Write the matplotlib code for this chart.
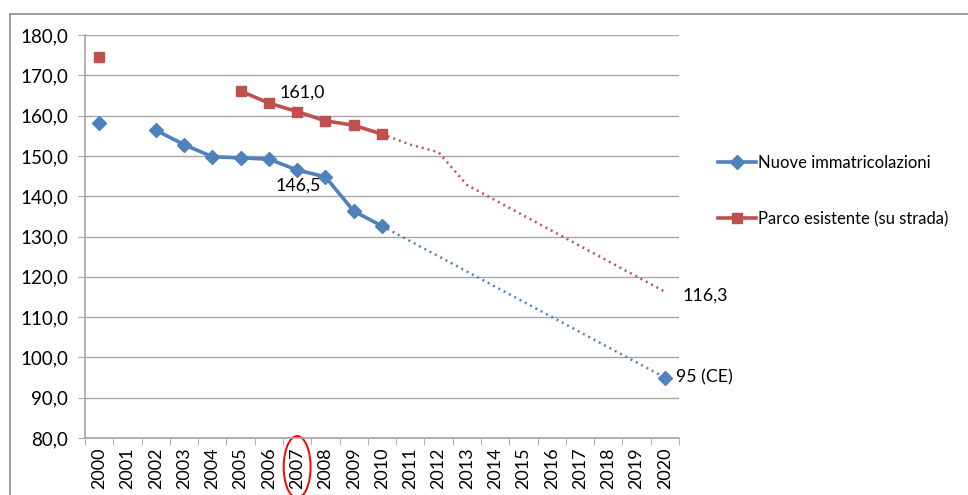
import matplotlib.pyplot as plt
import matplotlib.patches as mpatches
import matplotlib.transforms as mtransforms
import numpy as np

years = [str(y) for y in range(2000, 2021)]

# solid series (None = no data)
nuove = [158.1, None, 156.4, 152.8, 149.8, 149.5, 149.2, 146.5, 144.8, 136.3, 132.6,
         None, None, None, None, None, None, None, None, None, 95.0]
parco = [174.5, None, None, None, None, 166.1, 163.1, 161.0, 158.7, 157.6, 155.4,
         None, None, None, None, None, None, None, None, None, None]

# dotted projections
nuove_trend_years = [2010, 2020]
nuove_trend = [132.6, 95.0]
parco_trend_years = [2010, 2011, 2012, 2013, 2020]
parco_trend = [155.4, 152.8, 150.9, 142.8, 116.3]

blue = '#4F81BD'
red = '#C0504D'
grid = '#A6A6A6'
font = 'Lato'
fs = 12.8

fig = plt.figure(figsize=(9.68, 4.95), dpi=100)
ax = fig.add_axes([85/968, 1-438/495, (679-85)/968, (438-35)/495])

# outer chart frame
fig.patches.append(mpatches.Rectangle((10/968, -0.1), 1.2, (495-14)/495 + 0.1,
                                      transform=fig.transFigure, fill=False,
                                      edgecolor='#8C8C8C', linewidth=1.2))

x = np.arange(len(years))
yidx = {int(y): i for i, y in enumerate(years)}

nv = np.array([np.nan if v is None else v for v in nuove], dtype=float)
pv = np.array([np.nan if v is None else v for v in parco], dtype=float)

ax.plot([yidx[y] for y in nuove_trend_years], nuove_trend, color=blue, lw=1.8,
        linestyle=(0, (0.8, 1.6)), zorder=2)
ax.plot([yidx[y] for y in parco_trend_years], parco_trend, color=red, lw=1.8,
        linestyle=(0, (0.8, 1.6)), zorder=2)

ax.plot(x, nv, color=blue, lw=2.6, marker='D', markersize=7, zorder=3,
        label='Nuove immatricolazioni')
ax.plot(x, pv, color=red, lw=2.6, marker='s', markersize=7, zorder=3,
        label='Parco esistente (su strada)')

# data labels
ax.text(yidx[2007] - 0.62, 161.0 + 4.6, '161,0', fontsize=fs, family=font, va='center')
ax.text(yidx[2007] - 0.78, 146.5 - 4.0, '146,5', fontsize=fs, family=font, va='center')
ax.text(yidx[2020] + 0.62, 116.3 - 0.9, '116,3', fontsize=fs, family=font, va='center')
ax.text(yidx[2020] + 0.4, 95.0, '95 (CE)', fontsize=fs, family=font, va='center')

ax.set_xlim(-0.5, len(years) - 0.5)
ax.set_ylim(80, 180)
ax.set_yticks(np.arange(80, 181, 10))
ax.set_yticklabels([f'{v:.1f}'.replace('.', ',') for v in np.arange(80, 181, 10)],
                   fontsize=13.5, family=font)
ax.set_xticks(x)
ax.set_xticklabels(years, rotation=90, fontsize=13, family=font)
ax.set_xticks(np.arange(-0.5, len(years), 1), minor=True)
ax.tick_params(axis='x', which='major', length=0, pad=7)
ax.tick_params(axis='x', which='minor', length=5, color=grid, direction='out')
ax.tick_params(axis='y', length=5, color=grid, direction='out', pad=7)

ax.grid(axis='y', color=grid, lw=1)
ax.set_axisbelow(True)
for s in ['top', 'right']:
    ax.spines[s].set_visible(False)
for s in ['left', 'bottom']:
    ax.spines[s].set_color(grid)
    ax.spines[s].set_linewidth(1.2)

fig.legend(loc='upper left', bbox_to_anchor=(703/968, 1-140/495), frameon=False,
           prop={'family': font, 'size': 12}, handlelength=2.3, handletextpad=0.1,
           labelspacing=2.4)

# red ellipse around 2007 label
tr = mtransforms.blended_transform_factory(ax.transData, fig.transFigure)
ax.add_patch(mpatches.Ellipse((yidx[2007], 1-467/495), width=0.95, height=62/495,
                              transform=tr, fill=False, edgecolor='red', lw=1.4,
                              clip_on=False))

fig.savefig('out.png', dpi=100)
